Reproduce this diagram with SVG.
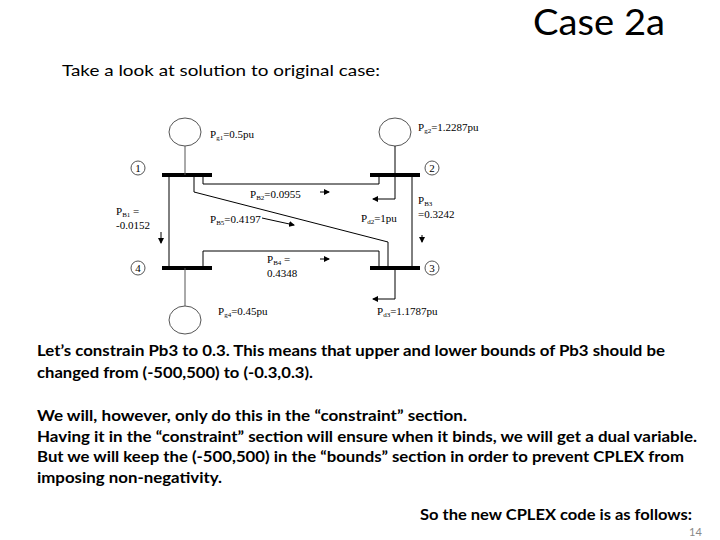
<svg xmlns="http://www.w3.org/2000/svg" width="720" height="540" viewBox="0 0 720 540">
<style>
.t{font-family:Lato,"Open Sans",sans-serif;fill:#000}
.b{font-weight:bold;font-size:16px}
.d{font-family:"Liberation Serif",serif;font-size:11px;fill:#000}
.s{font-size:7px}
.ln{stroke:#000;fill:none;stroke-width:1}
.g{stroke:#555;fill:none;stroke-width:1}
.bus{stroke:#000;stroke-width:4}
</style>
<defs><marker id="a" markerWidth="6" markerHeight="6" refX="5" refY="3" orient="auto" markerUnits="userSpaceOnUse"><path d="M0,0 L6,3 L0,6z" fill="#000"/></marker></defs>
<rect width="720" height="540" fill="#fff"/>
<text class="t" x="533" y="35" font-size="36" textLength="132" lengthAdjust="spacingAndGlyphs">Case 2a</text>
<text class="t" x="62" y="76" font-size="15" textLength="318" lengthAdjust="spacingAndGlyphs">Take a look at solution to original case:</text>
<g id="nodes">
<g id="gen1"><ellipse cx="185" cy="132" rx="16" ry="14" class="g"/></g>
<g id="gen2"><ellipse cx="395" cy="132" rx="16" ry="14" class="g"/></g>
<g id="gen4"><ellipse cx="185" cy="320" rx="16" ry="14" class="g"/></g>
<g id="bus1"><line x1="162" y1="175" x2="212" y2="175" class="bus"/><circle cx="138" cy="168" r="7" class="g"/><text class="d" x="138" y="172" text-anchor="middle">1</text></g>
<g id="bus2"><line x1="370" y1="175" x2="420" y2="175" class="bus"/><circle cx="432" cy="168" r="7" class="g"/><text class="d" x="432" y="172" text-anchor="middle">2</text></g>
<g id="bus4"><line x1="162" y1="268" x2="212" y2="268" class="bus"/><circle cx="138" cy="268" r="7" class="g"/><text class="d" x="138" y="272" text-anchor="middle">4</text></g>
<g id="bus3"><line x1="370" y1="268" x2="420" y2="268" class="bus"/><circle cx="432" cy="268" r="7" class="g"/><text class="d" x="432" y="272" text-anchor="middle">3</text></g>
</g>
<g id="connectors">
<line x1="185" y1="146" x2="185" y2="175" class="g"/>
<line x1="185" y1="268" x2="185" y2="306" class="g"/>
<polyline points="395,146 395,199 373,199" class="ln" marker-end="url(#a)"/>
<polyline points="395,268 395,299 373,299" class="ln" marker-end="url(#a)"/>
<line x1="169" y1="175" x2="169" y2="268" class="ln"/>
<line x1="412" y1="175" x2="412" y2="268" class="ln"/>
<polyline points="203,175 203,184 379,184 379,175" class="ln"/>
<polyline points="194,175 194,192 388,242 388,268" class="ln"/>
<polyline points="203,268 203,251 379,251 379,268" class="ln"/>
<line x1="320" y1="192" x2="329" y2="192" class="ln" marker-end="url(#a)"/>
<line x1="262" y1="218" x2="294" y2="225" class="ln" marker-end="url(#a)"/>
<line x1="320" y1="259" x2="329" y2="259" class="ln" marker-end="url(#a)"/>
<line x1="161" y1="232" x2="161" y2="243" class="ln" marker-end="url(#a)"/>
<line x1="422" y1="235" x2="422" y2="242" class="ln" marker-end="url(#a)"/>
</g>
<g id="labels">
<text class="d" x="210" y="138">P<tspan class="s" dy="2">g1</tspan><tspan dy="-2">=0.5pu</tspan></text>
<text class="d" x="418" y="131">P<tspan class="s" dy="2">g2</tspan><tspan dy="-2">=1.2287pu</tspan></text>
<text class="d" x="250" y="198">P<tspan class="s" dy="2">B2</tspan><tspan dy="-2">=0.0955</tspan></text>
<text class="d" x="116" y="215">P<tspan class="s" dy="2">B1</tspan><tspan dy="-2"> =</tspan></text>
<text class="d" x="116" y="229">-0.0152</text>
<text class="d" x="210" y="223">P<tspan class="s" dy="2">B5</tspan><tspan dy="-2">=0.4197</tspan></text>
<text class="d" x="361" y="222">P<tspan class="s" dy="2">d2</tspan><tspan dy="-2">=1pu</tspan></text>
<text class="d" x="418" y="204">P<tspan class="s" dy="2">B3</tspan></text>
<text class="d" x="418" y="218">=0.3242</text>
<text class="d" x="267" y="263">P<tspan class="s" dy="2">B4</tspan><tspan dy="-2"> =</tspan></text>
<text class="d" x="267" y="277">0.4348</text>
<text class="d" x="218" y="315">P<tspan class="s" dy="2">g4</tspan><tspan dy="-2">=0.45pu</tspan></text>
<text class="d" x="377" y="315">P<tspan class="s" dy="2">d3</tspan><tspan dy="-2">=1.1787pu</tspan></text>
</g>
<text class="t b" x="37" y="356" textLength="628" lengthAdjust="spacingAndGlyphs">Let’s constrain Pb3 to 0.3. This means that upper and lower bounds of Pb3 should be</text>
<text class="t b" x="37" y="378" textLength="276" lengthAdjust="spacingAndGlyphs">changed from (-500,500) to (-0.3,0.3).</text>
<text class="t b" x="37" y="421" textLength="430" lengthAdjust="spacingAndGlyphs">We will, however, only do this in the “constraint” section.</text>
<text class="t b" x="37" y="442" textLength="660" lengthAdjust="spacingAndGlyphs">Having it in the “constraint” section will ensure when it binds, we will get a dual variable.</text>
<text class="t b" x="37" y="462" textLength="647" lengthAdjust="spacingAndGlyphs">But we will keep the (-500,500) in the “bounds” section in order to prevent CPLEX from</text>
<text class="t b" x="37" y="483" textLength="185" lengthAdjust="spacingAndGlyphs">imposing non-negativity.</text>
<text class="t b" x="420" y="520" textLength="272" lengthAdjust="spacingAndGlyphs">So the new CPLEX code is as follows:</text>
<text class="t" x="689" y="536" font-size="11" style="fill:#888">14</text>
</svg>
